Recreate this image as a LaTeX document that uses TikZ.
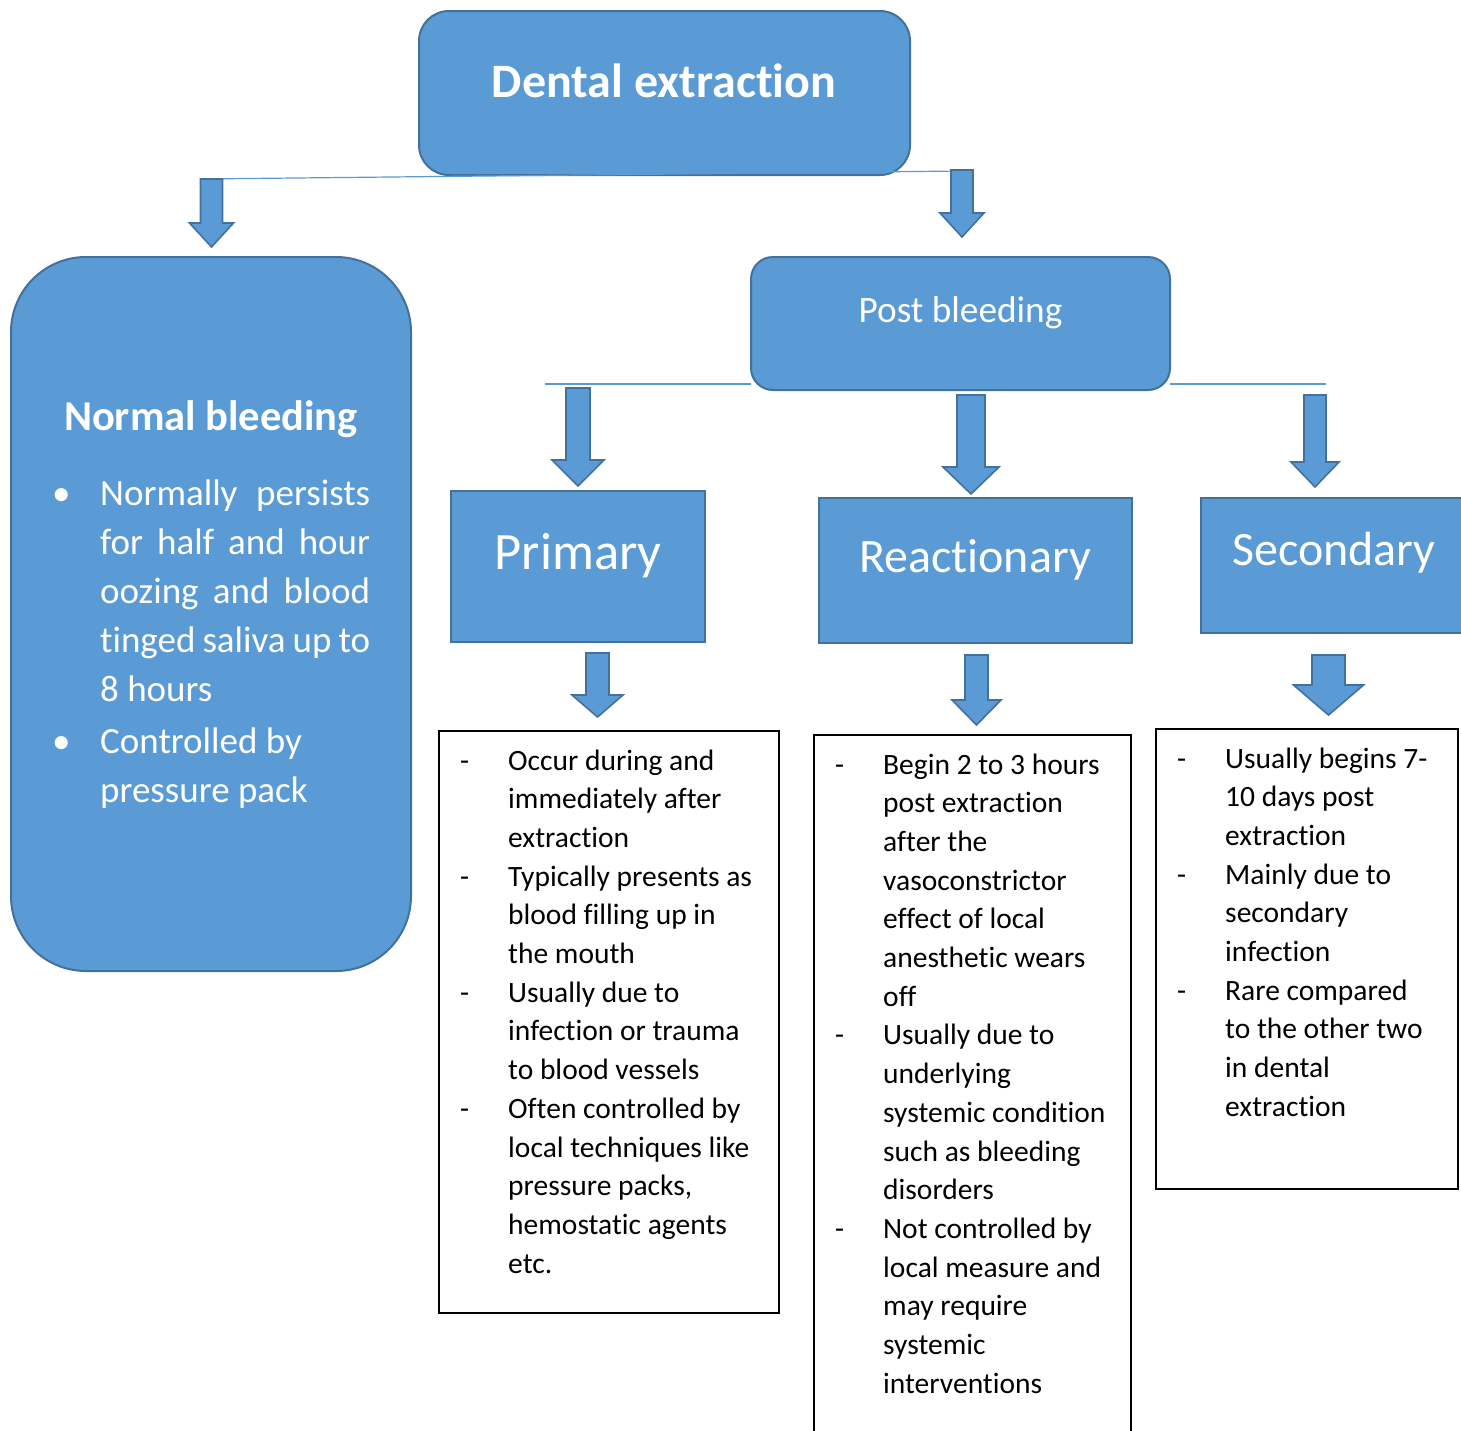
\documentclass[tikz,border=0pt]{standalone}
\usepackage{fontspec}
\setmainfont{Carlito}[Ligatures=NoCommon]
\usepackage{array}
\definecolor{boxblue}{HTML}{5B9BD5}
\definecolor{edgeblue}{HTML}{41719C}
\newcommand\barrow[6]{% x, ytop, yheadbase, ytip, shaft half width, head half width
  \draw[arrowshape] (#1-#5,#2) -- (#1+#5,#2) -- (#1+#5,#3) -- (#1+#6,#3) -- (#1,#4)
    -- (#1-#6,#3) -- (#1-#5,#3) -- cycle;}
\newcommand\dashlist[1]{\begin{tabular}[t]{@{}p{48pt}@{}l@{}}#1\end{tabular}}
\begin{document}
\begin{tikzpicture}[x=1pt,y=-1pt,
  bluebox/.style={draw=edgeblue,fill=boxblue,line width=2pt,text=white},
  arrowshape/.style={draw=edgeblue,fill=boxblue,line width=1.6pt,line join=miter},
  thinline/.style={draw=boxblue,line width=1.2pt},
  textbox/.style={draw=black,line width=1.2pt,fill=white},
  bodytext/.style={font=\fontsize{29.5}{38.7}\selectfont,inner sep=0pt,anchor=base west},
  ]
\useasboundingbox (0,0) rectangle (1461,1430);
\fill[white] (0,0) rectangle (1461,1430);

% top box
\draw[bluebox,rounded corners=30pt] (419,11) rectangle (910,175);
\node (dental) at (664,81) [text=white,font=\fontsize{48}{56}\selectfont\bfseries] {Dental extraction};

% connector line from top
\coordinate (lstart) at (200,179);
\coordinate (rend) at (962,171);
\draw[thinline] (lstart) -- (rend);
\barrow{211.5}{179}{223}{247}{11}{22}
\barrow{962}{170}{213}{237}{11}{22}

% Normal bleeding
\draw[bluebox,rounded corners=75pt] (11,257) rectangle (411,971);
\node (normal) at (211,419) [text=white,font=\fontsize{42.5}{50}\selectfont\bfseries] {Normal bleeding};
\begin{scope}[every node/.style={text=white,font=\fontsize{37}{49}\selectfont,inner sep=0pt,anchor=base west}]
\node (b1) at (52,505) {\textbullet};
\node (n1) at (100,505) {\makebox[270pt][s]{Normally persists}};
\node (n2) at (100,554) {\makebox[270pt][s]{for half and hour}};
\node (n3) at (100,603) {\makebox[270pt][s]{oozing and blood}};
\node (n4) at (100,652) {\makebox[270pt][s]{tinged saliva up to}};
\node (n5) at (100,701) {8 hours};
\node (b2) at (52,753) {\textbullet};
\node (n6) at (100,753) {Controlled by};
\node (n7) at (100,802) {pressure pack};
\end{scope}

% Post bleeding
\draw[bluebox,rounded corners=22pt] (751,257) rectangle (1170,390);
\node (post) at (960.5,313) [text=white,font=\fontsize{37.3}{44}\selectfont] {Post bleeding};
\coordinate (hl) at (545,384);
\coordinate (hr) at (1326,384);
\draw[thinline] (hl) -- (751,384);
\draw[thinline] (1170,384) -- (hr);

\barrow{578}{388}{460}{486}{12}{26}
\barrow{971}{395}{467}{494}{14}{28}
\barrow{1315}{395}{462}{487}{11}{24}

% category boxes
\node (primary) [bluebox,draw,rectangle,minimum width=254pt,minimum height=151pt,anchor=north west,inner sep=0pt] at (450,490) {};
\node at (578,556) [text=white,font=\fontsize{52.5}{60}\selectfont] {Primary};
\node (reactionary) [bluebox,draw,rectangle,minimum width=313pt,minimum height=145pt,anchor=north west,inner sep=0pt] at (818,497) {};
\node at (975,560) [text=white,font=\fontsize{48}{56}\selectfont] {Reactionary};
\node (secondary) [bluebox,draw,rectangle,minimum width=275pt,minimum height=135pt,anchor=north west,inner sep=0pt] at (1200,497) {};
\node at (1334,553) [text=white,font=\fontsize{48}{56}\selectfont] {Secondary};

\barrow{597.5}{653}{695}{717}{11.5}{25.5}
\barrow{976.5}{655}{700}{725}{11.5}{24.5}
\barrow{1328.5}{655}{685}{715}{16.5}{35}

% text boxes
\draw[textbox] (439,731) rectangle (779,1313);
\draw[textbox] (814,735) rectangle (1131,1445);
\draw[textbox] (1156,729) rectangle (1458,1189);

\node (ptext) [bodytext] at (460,770) {\dashlist{
- & Occur during and\\
  & immediately after\\
  & extraction\\
- & Typically presents as\\
  & blood filling up in\\
  & the mouth\\
- & Usually due to\\
  & infection or trauma\\
  & to blood vessels\\
- & Often controlled by\\
  & local techniques like\\
  & pressure packs,\\
  & hemostatic agents\\
  & etc.}};

\node (rtext) [bodytext] at (835,774) {\dashlist{
- & Begin 2 to 3 hours\\
  & post extraction\\
  & after the\\
  & vasoconstrictor\\
  & effect of local\\
  & anesthetic wears\\
  & off\\
- & Usually due to\\
  & underlying\\
  & systemic condition\\
  & such as bleeding\\
  & disorders\\
- & Not controlled by\\
  & local measure and\\
  & may require\\
  & systemic\\
  & interventions}};

\node (stext) [bodytext] at (1177,768) {\dashlist{
- & Usually begins 7-\\
  & 10 days post\\
  & extraction\\
- & Mainly due to\\
  & secondary\\
  & infection\\
- & Rare compared\\
  & to the other two\\
  & in dental\\
  & extraction}};
\end{tikzpicture}
\end{document}
